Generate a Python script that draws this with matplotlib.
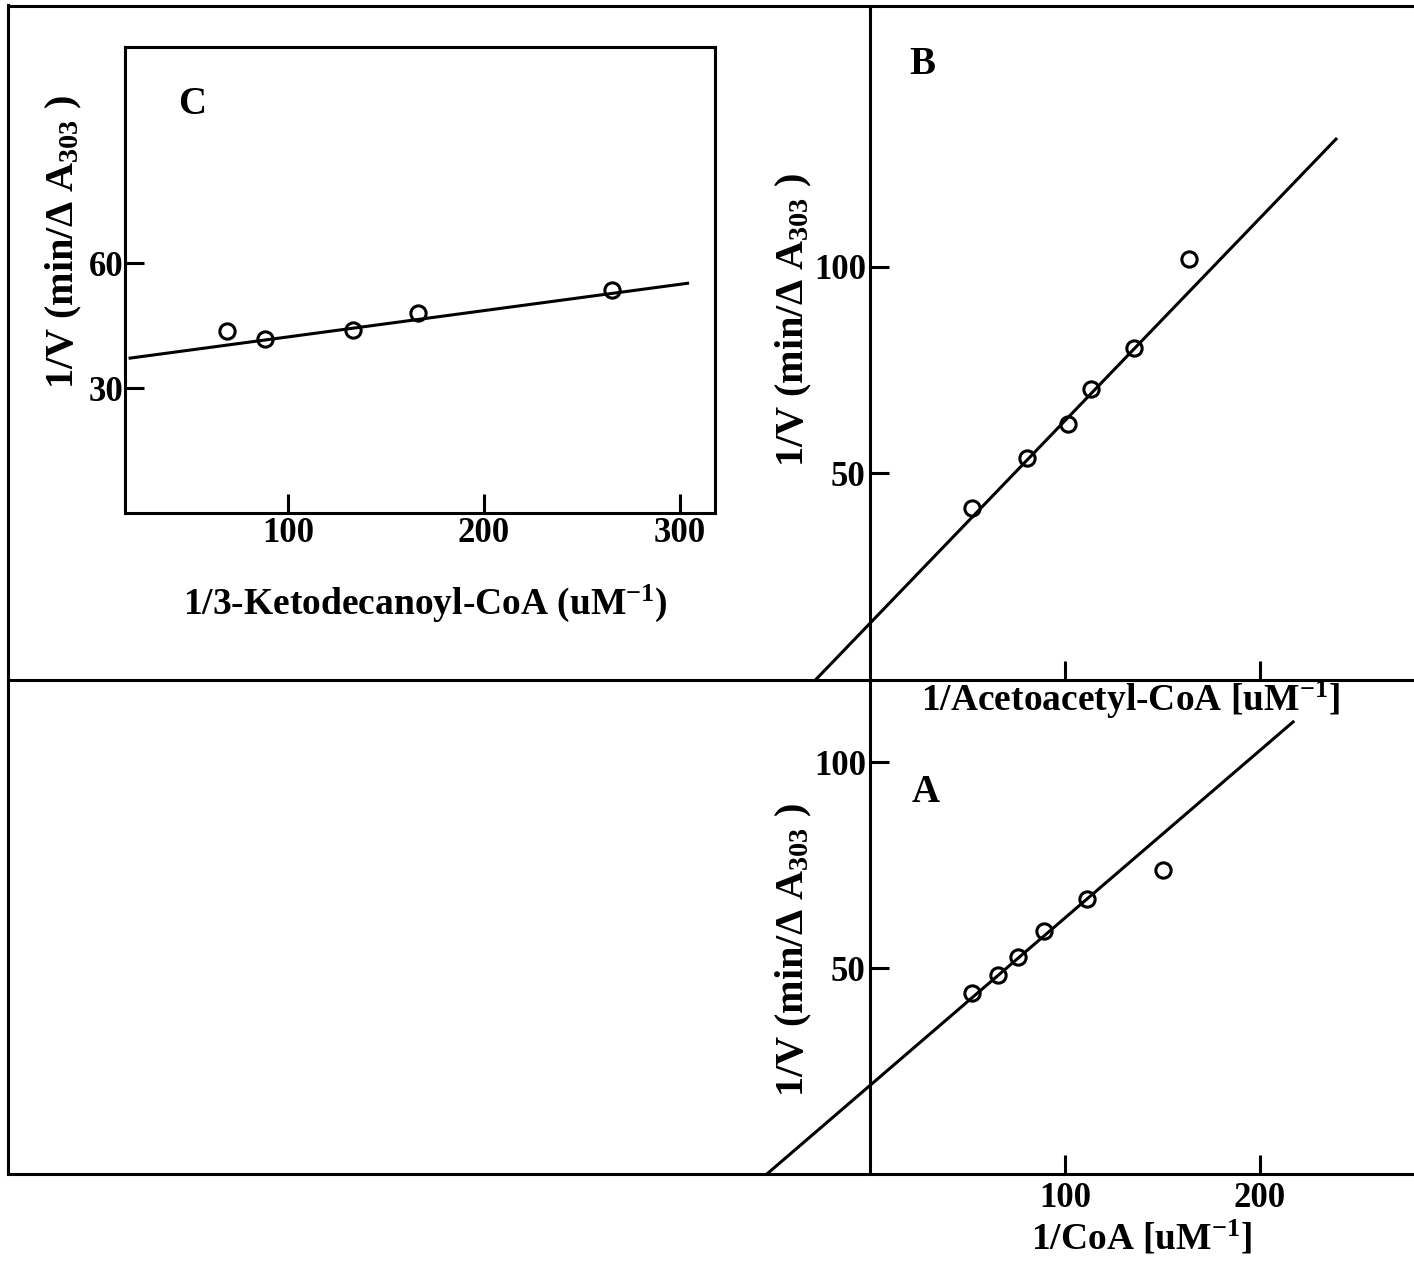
import matplotlib.pyplot as plt
from matplotlib.lines import Line2D

# Double-reciprocal plots: 1/v against 1/[substrate]
coa_x = [52.3, 65.6, 75.9, 89.2, 111.3, 150.3]
coa_y = [43.9, 48.3, 52.7, 59.0, 66.7, 73.8]
coa_fit = (21.5, 0.407)          # intercept, slope
coa_span = (-52.8, 217.0)

acac_x = [52.3, 80.5, 101.5, 113.3, 135.4, 163.6]
acac_y = [41.5, 53.6, 61.8, 70.3, 80.2, 101.7]
acac_fit = (13.7, 0.49)
acac_span = (-28.0, 239.0)

keto_x = [68.9, 88.3, 133.2, 166.3, 265.3]
keto_y = [43.7, 41.8, 44.1, 48.0, 53.5]
keto_fit = (36.0, 0.0632)
keto_span = (19.4, 304.0)

main_xticks = [100, 200]
main_yticks = [50, 100]
inset_xticks = [100, 200, 300]
inset_yticks = [30, 60]

ylab = '1/V (min/Δ A$_{303}$ )'

plt.rcParams['font.family'] = ['Liberation Serif', 'DejaVu Serif']
plt.rcParams['font.weight'] = 'bold'
plt.rcParams['mathtext.fontset'] = 'custom'
plt.rcParams['mathtext.rm'] = 'Liberation Serif:bold'
plt.rcParams['mathtext.it'] = 'Liberation Serif:bold'
plt.rcParams['mathtext.bf'] = 'Liberation Serif:bold'

W, H = 1414, 1264
LW = 2.2
fig = plt.figure(figsize=(W / 100, H / 100), dpi=100)


def px_axes(l, t, r, b):
    ax = fig.add_axes([l / W, 1 - b / H, (r - l) / W, (b - t) / H])
    ax.patch.set_visible(False)
    return ax


def fig_text(x, y, s, **kw):
    fig.text(x / W, 1 - y / H, s, ha='center', va='center', **kw)


def fit_line(ax, fit, span):
    b0, b1 = fit
    xs = list(span)
    ax.plot(xs, [b0 + b1 * x for x in xs], color='k', lw=LW, zorder=2)


def points(ax, x, y):
    ax.plot(x, y, 'o', ms=11, mfc='none', mec='k', mew=2.2, zorder=3)


def style_ticks(ax, size):
    ax.tick_params(direction='in', length=14, width=2.2, labelsize=size,
                   pad=3)


# upper panel: acetoacetyl-CoA
axB = px_axes(8, 6, 1414, 680)
axB.set_xlim(-442, 279)
axB.set_ylim(0, 163)
fit_line(axB, acac_fit, acac_span)
points(axB, acac_x, acac_y)
axB.spines['left'].set_position(('data', 0))
axB.spines['right'].set_visible(False)
for s in axB.spines.values():
    s.set_linewidth(LW)
axB.set_xticks(main_xticks)
axB.set_xticklabels([])
axB.set_yticks(main_yticks)
style_ticks(axB, 25)

# lower panel: CoA
axA = px_axes(8, 680, 1414, 1174)
axA.set_xlim(-442, 279)
axA.set_ylim(0, 120)
fit_line(axA, coa_fit, coa_span)
points(axA, coa_x, coa_y)
axA.spines['left'].set_position(('data', 0))
axA.spines['right'].set_visible(False)
axA.spines['top'].set_visible(False)
for s in axA.spines.values():
    s.set_linewidth(LW)
axA.set_xticks(main_xticks)
axA.set_yticks(main_yticks)
style_ticks(axA, 25)
axA.tick_params(axis='x', pad=6)

# outer frame on the left
fig.add_artist(Line2D([8 / W, 8 / W], [1 - 1174 / H, 1 - 5 / H],
                      transform=fig.transFigure, color='k', lw=LW))

# inset: 3-ketodecanoyl-CoA
axC = px_axes(125, 47, 715, 513)
axC.patch.set_visible(True)
axC.patch.set_facecolor('white')
axC.set_xlim(16.8, 318)
axC.set_ylim(0, 112)
fit_line(axC, keto_fit, keto_span)
points(axC, keto_x, keto_y)
for s in axC.spines.values():
    s.set_linewidth(LW)
axC.set_xticks(inset_xticks)
axC.set_yticks(inset_yticks)
style_ticks(axC, 25)
axC.tick_params(axis='y', pad=1)

# labels
fig_text(794, 320, ylab, rotation=90, fontsize=29)
fig_text(794, 950, ylab, rotation=90, fontsize=29)
fig_text(64, 242, ylab, rotation=90, fontsize=29)
fig_text(1130, 700, '1/Acetoacetyl-CoA [uM$^{-1}$]', fontsize=27)
fig_text(1142, 1238, '1/CoA [uM$^{-1}$]', fontsize=27)
fig_text(425, 603, '1/3-Ketodecanoyl-CoA (uM$^{-1}$)', fontsize=27)

fig_text(922, 65, 'B', fontsize=28)
fig_text(926, 792, 'A', fontsize=28)
fig_text(192, 105, 'C', fontsize=28)

fig.savefig('out.png', dpi=100, facecolor='white')
